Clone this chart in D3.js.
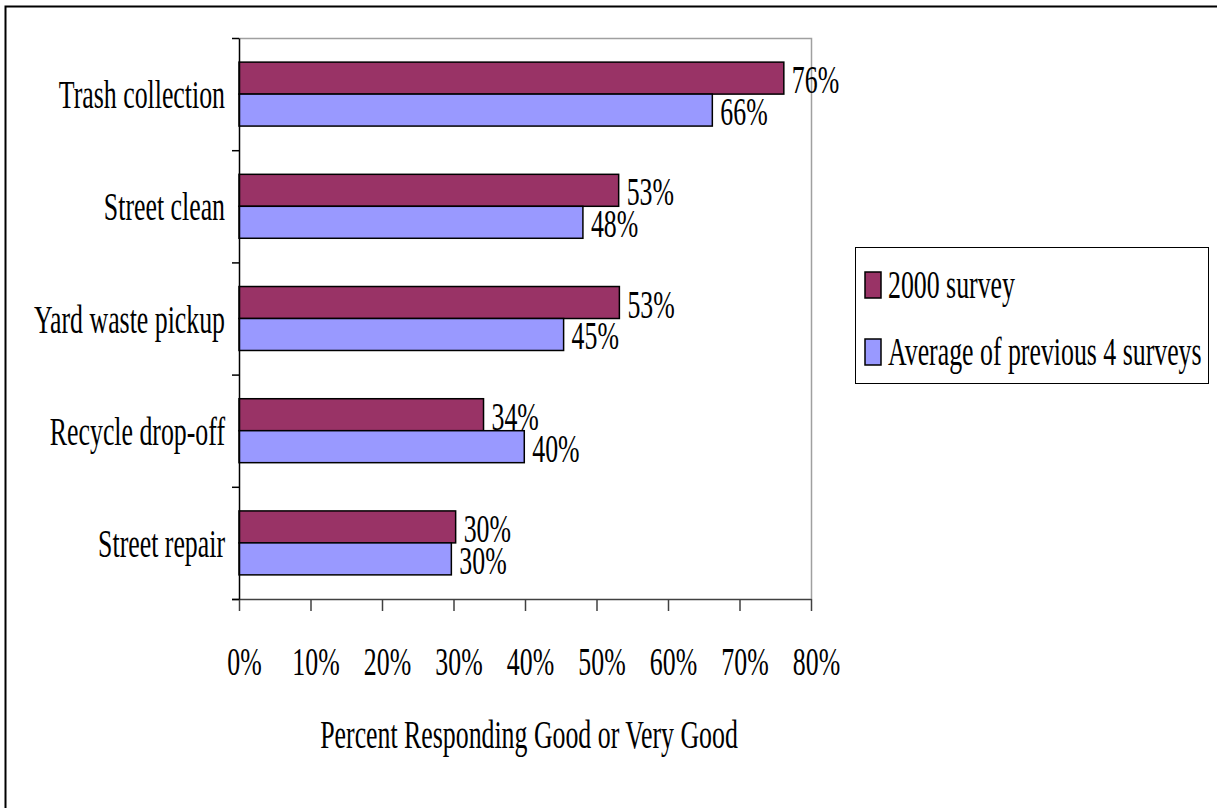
<!DOCTYPE html>
<html>
<head>
<meta charset="utf-8">
<script src="https://cdn.jsdelivr.net/npm/d3@7"></script>
<style>
    body { margin: 0; background: #fff; }
    text { font-family: "Liberation Serif", "Times New Roman", serif; fill: #000; }
</style>
</head>
<body>
<div id="chart"></div>
<script>
var categories = ["Trash collection", "Street clean", "Yard waste pickup", "Recycle drop-off", "Street repair"];
var seriesNames = ["2000 survey", "Average of previous 4 surveys"];
var survey2000 = [76.2, 53.1, 53.2, 34.2, 30.3];
var previousAvg = [66.2, 48.1, 45.4, 39.9, 29.7];
var xTicks = [0, 10, 20, 30, 40, 50, 60, 70, 80];
var colors = ["#993366", "#9999ff"];

drawChart();

function drawChart() {
    var width = 1217;
    var height = 808;
    var fontSize = 41;
    var sx = 0.63; // text in the original is squeezed horizontally
    var plot = { left: 239, right: 811, top: 38, bottom: 599 };

    var data = categories.map((c, i) => ({ category: c, values: [survey2000[i], previousAvg[i]] }));

    var x = d3.scaleLinear()
        .domain([0, 80])
        .range([plot.left, plot.right]);

    var y = d3.scaleBand()
        .domain(categories)
        .range([plot.top, plot.bottom])
        .paddingInner(0.43)
        .paddingOuter(0.215);

    var ySeries = d3.scaleBand()
        .domain(d3.range(seriesNames.length))
        .range([0, y.bandwidth()]);

    var yEdges = d3.scaleLinear()
        .domain([0, categories.length])
        .range([plot.top, plot.bottom]);

    const svg = d3.select("#chart").append("svg")
        .attr("width", width)
        .attr("height", height);

    // outer frame
    svg.append("rect")
        .attr("x", 5.5).attr("y", 6.5)
        .attr("width", 1240).attr("height", 840)
        .attr("fill", "none")
        .attr("stroke", "#000")
        .attr("stroke-width", 2);

    // plot border (top and right)
    svg.append("path")
        .attr("d", `M${plot.left},${plot.top + 0.5}H${plot.right + 0.5}V${plot.bottom}`)
        .attr("fill", "none")
        .attr("stroke", "#a0a0a0")
        .attr("stroke-width", 1.5);

    // bars
    svg.append("g")
        .selectAll("g")
        .data(data)
        .join("g")
        .attr("transform", d => `translate(0,${y(d.category)})`)
        .selectAll("rect")
        .data(d => d.values)
        .join("rect")
        .attr("x", x(0))
        .attr("y", (d, i) => ySeries(i))
        .attr("width", d => x(d) - x(0))
        .attr("height", ySeries.bandwidth())
        .attr("fill", (d, i) => colors[i])
        .attr("stroke", "#000")
        .attr("stroke-width", 1.5);

    // value labels
    svg.append("g")
        .selectAll("g")
        .data(data)
        .join("g")
        .attr("transform", d => `translate(0,${y(d.category)})`)
        .selectAll("text")
        .data(d => d.values)
        .join("text")
        .attr("font-size", fontSize)
        .attr("transform", (d, i) => `translate(${x(d) + 8},${ySeries(i) + ySeries.bandwidth() - 1}) scale(${sx},1)`)
        .text(d => Math.round(d) + "%");

    // x axis
    var xAxis = svg.append("g")
        .attr("transform", `translate(0,${plot.bottom})`)
        .call(d3.axisBottom(x).tickValues(xTicks).tickSize(12).tickSizeOuter(0).tickFormat(d => d + "%"));
    xAxis.select(".domain")
        .attr("d", `M${plot.left - 7},0.5H${plot.right + 0.5}`)
        .attr("stroke", "#404040")
        .attr("stroke-width", 1.5);
    xAxis.selectAll(".tick line").attr("stroke", "#404040").attr("stroke-width", 1.5);
    xAxis.selectAll(".tick text")
        .attr("y", null)
        .attr("dy", null)
        .attr("font-size", fontSize)
        .attr("font-family", null)
        .attr("fill", "#000")
        .attr("transform", `translate(5,76) scale(${sx},1)`);

    // y axis: tick marks at category edges
    var yAxis = svg.append("g")
        .attr("transform", `translate(${plot.left},0)`)
        .call(d3.axisLeft(yEdges).tickValues(d3.range(categories.length + 1)).tickSize(7).tickSizeOuter(0).tickFormat(""));
    yAxis.select(".domain").attr("stroke", "#000").attr("stroke-width", 1.5);
    yAxis.selectAll(".tick line").attr("stroke", "#000").attr("stroke-width", 1.5);

    // category labels
    svg.append("g")
        .attr("text-anchor", "end")
        .selectAll("text")
        .data(categories)
        .join("text")
        .attr("font-size", fontSize)
        .attr("transform", d => `translate(225,${y(d) + y.bandwidth() / 2 + 14}) scale(${sx},1)`)
        .text(d => d);

    // axis title
    svg.append("text")
        .attr("text-anchor", "middle")
        .attr("font-size", fontSize)
        .attr("transform", `translate(529,748) scale(${sx},1)`)
        .text("Percent Responding Good or Very Good");

    // legend
    var legend = svg.append("g").attr("transform", "translate(855,247)");
    legend.append("rect")
        .attr("x", 0.5).attr("y", 0.5)
        .attr("width", 353).attr("height", 136)
        .attr("fill", "#fff")
        .attr("stroke", "#000")
        .attr("stroke-width", 1);

    var items = legend.selectAll("g.item")
        .data(seriesNames)
        .join("g")
        .attr("class", "item")
        .attr("transform", (d, i) => `translate(10,${25 + i * 67})`);
    items.append("rect")
        .attr("width", 16).attr("height", 26)
        .attr("fill", (d, i) => colors[i])
        .attr("stroke", "#000")
        .attr("stroke-width", 1.5);
    items.append("text")
        .attr("font-size", fontSize)
        .attr("transform", `translate(23,26) scale(${sx},1)`)
        .text(d => d);
}
</script>
</body>
</html>
